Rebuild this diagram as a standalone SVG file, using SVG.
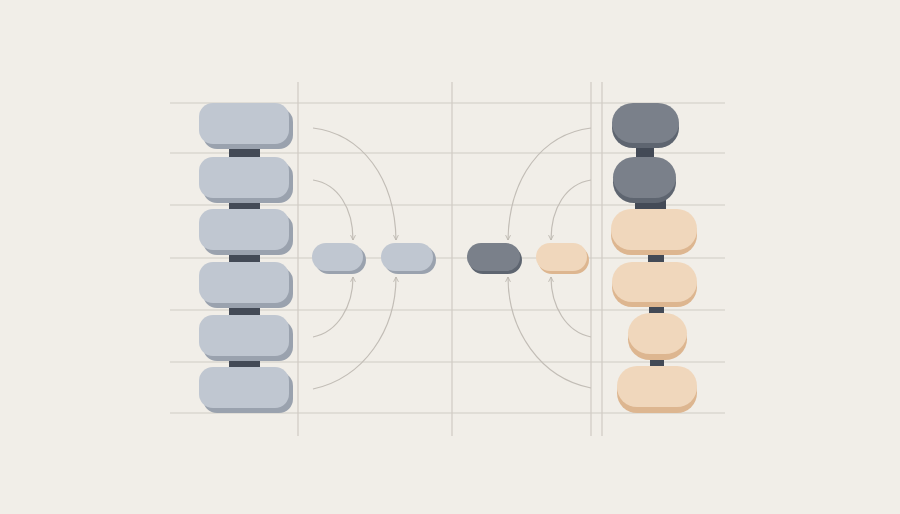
<svg xmlns="http://www.w3.org/2000/svg" width="900" height="514" viewBox="0 0 900 514">
<defs>
<marker id="arr" viewBox="0 0 10 10" refX="8" refY="5" markerWidth="7" markerHeight="7" orient="auto" markerUnits="userSpaceOnUse">
<path d="M1,1.5 L8,5 L1,8.5" fill="none" stroke="#b9b4ac" stroke-width="1.2"/>
</marker>
<style>
.grid{stroke:#d0cbc4;stroke-width:1.2;fill:none}
.flow{stroke:#c2bdb6;stroke-width:1.2;fill:none;marker-end:url(#arr)}
.bf{fill:#c0c7d1}.bs{fill:#9aa2ae}
.df{fill:#7a808a}.ds{fill:#5e6570}
.pf{fill:#f0d7bc}.ps{fill:#ddb690}
.bar{fill:#434a56}
</style>
</defs>
<rect width="900" height="514" fill="#f1eee8"/>
<g id="grid">
<path class="grid" d="M170,103H725M170,153H725M170,205H725M170,258H725M170,310H725M170,362H725M170,413H725"/>
<path class="grid" d="M298,82V436M452,82V436M591,82V436M602,82V436"/>
</g>
<g id="connectors">
<path class="flow" d="M313,128 C362,134 395,178 396,240"/>
<path class="flow" d="M313,180 C338,184 353,208 353,240"/>
<path class="flow" d="M313,337 C338,332 353,306 353,277"/>
<path class="flow" d="M313,389 C364,378 396,330 396,277"/>
<path class="flow" d="M591,128 C542,134 509,178 508,240"/>
<path class="flow" d="M591,180 C566,184 551,208 551,240"/>
<path class="flow" d="M591,337 C566,332 551,306 551,277"/>
<path class="flow" d="M591,388 C540,378 508,330 508,277"/>
</g>
<g id="left-links">
<rect class="bar" x="229" y="145" width="31" height="14"/>
<rect class="bar" x="229" y="199" width="31" height="12"/>
<rect class="bar" x="229" y="251" width="31" height="13"/>
<rect class="bar" x="229" y="304" width="31" height="13"/>
<rect class="bar" x="229" y="357" width="31" height="12"/>
</g>
<g id="left-1"><rect class="bs" x="203" y="108" width="90" height="41" rx="14"/><rect class="bf" x="199" y="103" width="90" height="41" rx="14"/></g>
<g id="left-2"><rect class="bs" x="203" y="162" width="90" height="41" rx="14"/><rect class="bf" x="199" y="157" width="90" height="41" rx="14"/></g>
<g id="left-3"><rect class="bs" x="203" y="214" width="90" height="41" rx="14"/><rect class="bf" x="199" y="209" width="90" height="41" rx="14"/></g>
<g id="left-4"><rect class="bs" x="203" y="267" width="90" height="41" rx="14"/><rect class="bf" x="199" y="262" width="90" height="41" rx="14"/></g>
<g id="left-5"><rect class="bs" x="203" y="320" width="90" height="41" rx="14"/><rect class="bf" x="199" y="315" width="90" height="41" rx="14"/></g>
<g id="left-6"><rect class="bs" x="203" y="372" width="90" height="41" rx="14"/><rect class="bf" x="199" y="367" width="90" height="41" rx="14"/></g>
<g id="mid-a"><rect class="bs" x="315" y="246" width="51" height="28" rx="14"/><rect class="bf" x="312" y="243" width="51" height="28" rx="14"/></g>
<g id="mid-b"><rect class="bs" x="384" y="246" width="52" height="28" rx="14"/><rect class="bf" x="381" y="243" width="52" height="28" rx="14"/></g>
<g id="mid-c"><rect class="ds" x="469" y="246" width="53" height="28" rx="14"/><rect class="df" x="467" y="243" width="53" height="28" rx="14"/></g>
<g id="mid-d"><rect class="ps" x="538" y="246" width="51" height="28" rx="14"/><rect class="pf" x="536" y="243" width="51" height="28" rx="14"/></g>
<g id="right-links">
<rect class="bar" x="636" y="143" width="18" height="17"/>
<rect class="bar" x="635" y="198" width="31" height="14"/>
<rect class="bar" x="648" y="250" width="16" height="15"/>
<rect class="bar" x="649" y="302" width="15" height="14"/>
<rect class="bar" x="650" y="355" width="14" height="14"/>
</g>
<g id="right-1"><rect class="ds" x="612" y="108" width="67" height="40" rx="21"/><rect class="df" x="612" y="103" width="67" height="40" rx="21"/></g>
<g id="right-2"><rect class="ds" x="613" y="162" width="63" height="41" rx="21"/><rect class="df" x="613" y="157" width="63" height="41" rx="21"/></g>
<g id="right-3"><rect class="ps" x="611" y="214" width="86" height="41" rx="20"/><rect class="pf" x="611" y="209" width="86" height="41" rx="20"/></g>
<g id="right-4"><rect class="ps" x="612" y="267" width="85" height="40" rx="20"/><rect class="pf" x="612" y="262" width="85" height="40" rx="20"/></g>
<g id="right-5"><rect class="ps" x="628" y="319" width="59" height="41" rx="22"/><rect class="pf" x="628" y="313" width="59" height="41" rx="22"/></g>
<g id="right-6"><rect class="ps" x="617" y="372" width="80" height="41" rx="20"/><rect class="pf" x="617" y="366" width="80" height="41" rx="20"/></g>
</svg>
